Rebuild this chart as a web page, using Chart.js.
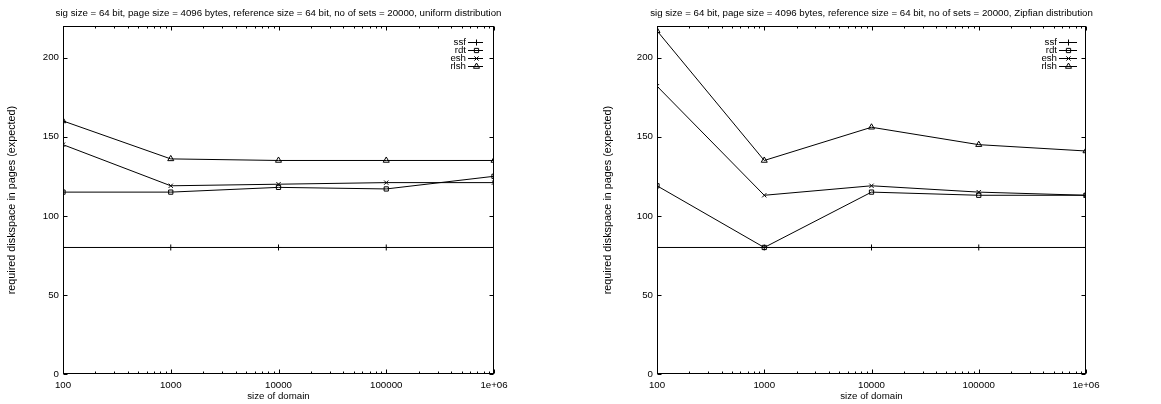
<!DOCTYPE html>
<html>
<head>
<meta charset="utf-8">
<title>diskspace</title>
<script src="https://cdn.jsdelivr.net/npm/chart.js@4.4.1/dist/chart.umd.min.js"></script>
<style>
  body { margin: 0; background: #fff; }
  .panel { position: absolute; top: 0; height: 404px; }
</style>
</head>
<body>
<div class="panel" style="left:0;width:557px"><canvas id="uniformChart"></canvas></div>
<div class="panel" style="left:580px;width:583px"><canvas id="zipfChart"></canvas></div>
<script>
// x values (size of domain) and tick labels
const domainSizes = [100, 1000, 10000, 100000, 1000000];
const xTickLabels = ['100', '1000', '10000', '100000', '1e+06'];
const yTicks = [0, 50, 100, 150, 200];
const seriesNames = ['ssf', 'rdt', 'esh', 'rlsh'];
const seriesMarkers = ['cross', 'rect', 'crossRot', 'triangle'];

// uniform distribution
const uniformSsf = [80, 80, 80, 80, 80];
const uniformRdt = [115, 115, 118, 117, 125];
const uniformEsh = [145, 119, 120, 121, 121];
const uniformRlsh = [160, 136, 135, 135, 135];

// Zipfian distribution
const zipfSsf = [80, 80, 80, 80, 80];
const zipfRdt = [119, 80, 115, 113, 113];
const zipfEsh = [182, 113, 119, 115, 113];
const zipfRlsh = [217, 135, 156, 145, 141];

const titleBase = 'sig size = 64 bit, page size = 4096 bytes, reference size = 64 bit, no of sets = 20000, ';
const FONT = '"Liberation Sans", Arial, sans-serif';

Chart.defaults.font.family = FONT;
Chart.defaults.font.size = 9.7;
Chart.defaults.color = '#000';

// gnuplot 스타일 테두리 + 안쪽 눈금
const gnuplotFrame = {
  id: 'gnuplotFrame',
  afterDatasetsDraw(chart) {
    const { ctx, chartArea: a, scales: { x, y } } = chart;
    const L = Math.round(a.left) + 0.5, R = Math.round(a.right) - 0.5;
    const T = Math.round(a.top) + 0.5, B = Math.round(a.bottom) - 0.5;
    ctx.save();
    ctx.strokeStyle = '#000';
    ctx.lineWidth = 1;
    ctx.strokeRect(L, T, R - L, B - T);
    ctx.beginPath();
    x.ticks.forEach(t => {
      const px = Math.round(x.getPixelForValue(t.value)) + 0.5;
      const len = domainSizes.includes(t.value) ? 4 : 2;
      ctx.moveTo(px, B); ctx.lineTo(px, B - len);
      ctx.moveTo(px, T); ctx.lineTo(px, T + len);
    });
    y.ticks.forEach(t => {
      const py = Math.round(y.getPixelForValue(t.value)) + 0.5;
      ctx.moveTo(L, py); ctx.lineTo(L + 4, py);
      ctx.moveTo(R, py); ctx.lineTo(R - 4, py);
    });
    ctx.stroke();
    ctx.restore();
  }
};

// 오른쪽 위 범례 (텍스트 + 선 + 마커)
const gnuplotKey = {
  id: 'gnuplotKey',
  afterDraw(chart, args, opts) {
    const { ctx, chartArea: a } = chart;
    ctx.save();
    ctx.font = '9.7px ' + FONT;
    ctx.textAlign = 'right';
    ctx.textBaseline = 'middle';
    chart.data.datasets.forEach((ds, i) => {
      const yy = Math.round(a.top + 16 + i * 8) + 0.5;
      const textRight = a.right - opts.textGap;
      ctx.fillStyle = '#000';
      ctx.fillText(ds.label, textRight, yy);
      const x0 = textRight + 2, x1 = a.right - opts.lineGap;
      ctx.strokeStyle = '#000';
      ctx.lineWidth = 1;
      ctx.beginPath();
      ctx.moveTo(x0, yy); ctx.lineTo(x1, yy);
      ctx.stroke();
      ctx.fillStyle = 'rgba(0,0,0,0)';
      Chart.helpers.drawPoint(ctx, {
        pointStyle: ds.pointStyle, rotation: 0, radius: ds.pointRadius, borderWidth: 1
      }, Math.round((x0 + x1) / 2) + 0.5, yy);
    });
    ctx.restore();
  }
};

function makeDatasets(values) {
  return values.map((v, i) => ({
    label: seriesNames[i],
    data: domainSizes.map((d, j) => ({ x: d, y: v[j] })),
    borderColor: '#000',
    borderWidth: 1,
    pointStyle: seriesMarkers[i],
    pointRadius: seriesMarkers[i] === 'triangle' ? 3.5 : 3,
    pointBorderColor: '#000',
    pointBorderWidth: 1,
    pointBackgroundColor: 'rgba(0,0,0,0)',
    tension: 0
  }));
}

function makeChart(canvasId, values, distName, layout) {
  const ctx = document.getElementById(canvasId).getContext('2d');
  return new Chart(ctx, {
    type: 'line',
    data: { datasets: makeDatasets(values) },
    plugins: [gnuplotFrame, gnuplotKey],
    options: {
      responsive: true,
      maintainAspectRatio: false,
      animation: false,
      layout: { padding: 0 },
      plugins: {
        legend: { display: false },
        tooltip: { enabled: false },
        title: {
          display: true,
          text: titleBase + distName,
          color: '#000',
          font: { size: 9.7, weight: 'normal' },
          padding: { top: 8, bottom: 6.4 }
        },
        gnuplotKey: layout.key
      },
      scales: {
        x: {
          type: 'logarithmic',
          min: 100,
          max: 1000000,
          grid: { display: false, drawTicks: false },
          border: { display: false },
          afterBuildTicks: scale => {
            const ticks = [];
            domainSizes.forEach(d => {
              ticks.push({ value: d });
              if (d < 1000000) for (let m = 2; m <= 9; m++) ticks.push({ value: m * d });
            });
            scale.ticks = ticks;
          },
          afterFit: scale => {
            scale.height = 30;
            scale.paddingRight = layout.right;
          },
          ticks: {
            autoSkip: false,
            maxRotation: 0,
            padding: 6,
            callback: v => {
              const k = domainSizes.indexOf(v);
              return k >= 0 ? xTickLabels[k] : '';
            }
          },
          title: { display: true, text: 'size of domain', padding: { top: 0, bottom: 1.5 } }
        },
        y: {
          min: 0,
          max: 220,
          grid: { display: false, drawTicks: false },
          border: { display: false },
          afterBuildTicks: scale => { scale.ticks = yTicks.map(v => ({ value: v })); },
          afterFit: scale => { scale.width = layout.left; },
          ticks: { padding: 4 },
          title: {
            display: true,
            text: 'required diskspace in pages (expected)',
            font: { size: 10.8 },
            padding: { top: layout.yTitlePad, bottom: 0 }
          }
        }
      }
    }
  });
}

makeChart('uniformChart', [uniformSsf, uniformRdt, uniformEsh, uniformRlsh], 'uniform distribution',
  { left: 63, right: 63, yTitlePad: 5.5, key: { textGap: 28, lineGap: 11 } });
makeChart('zipfChart', [zipfSsf, zipfRdt, zipfEsh, zipfRlsh], 'Zipfian distribution',
  { left: 77, right: 77, yTitlePad: 21.5, key: { textGap: 29, lineGap: 9 } });
</script>
</body>
</html>
